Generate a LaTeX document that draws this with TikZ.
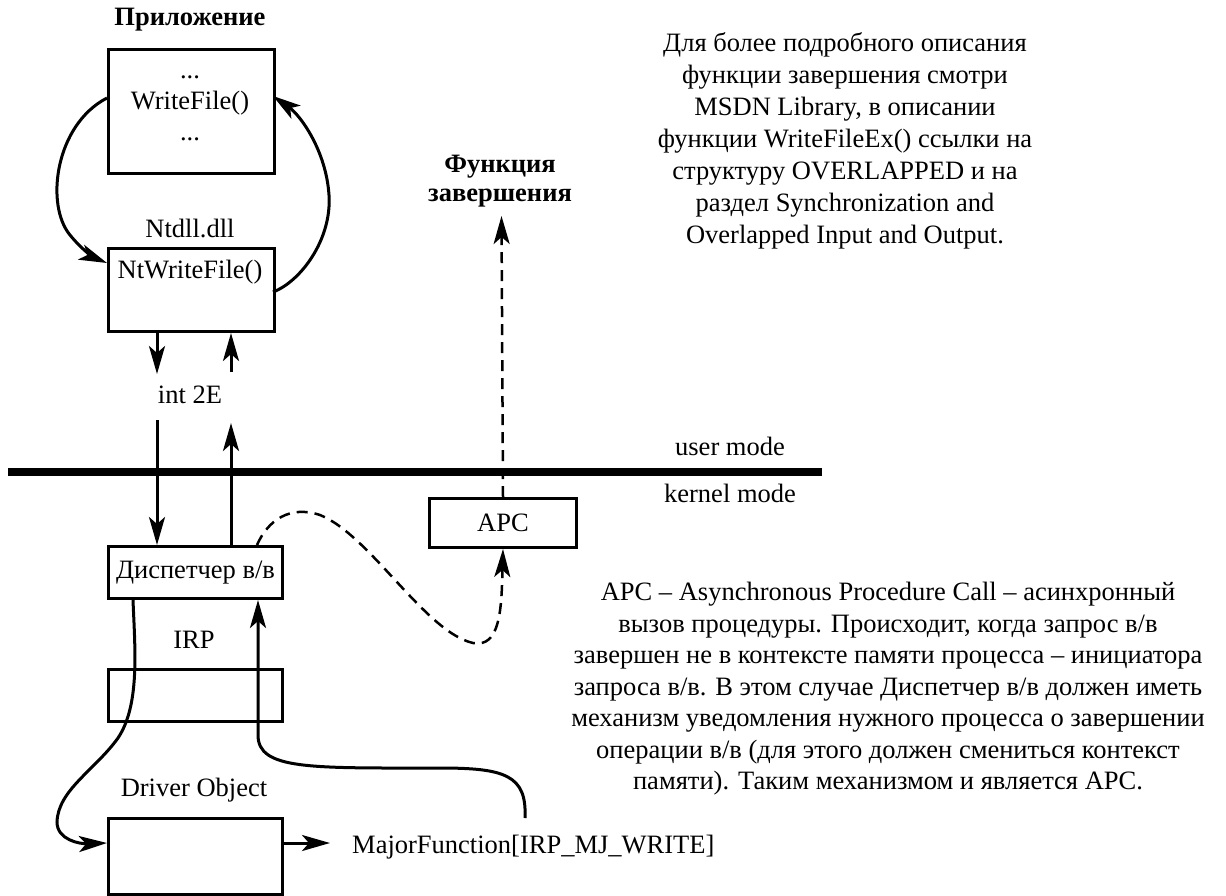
\documentclass[tikz,border=0pt]{standalone}
\usepackage{fontspec}
\setmainfont{Liberation Serif}
\usetikzlibrary{arrows.meta,calc}
\begin{document}
\begin{tikzpicture}[x=1pt,y=-1pt,
  every node/.style={font=\fontsize{26.5}{31.5}\selectfont, inner sep=0pt},
  box/.style={draw, line width=3pt, anchor=north west},
  txt/.style={align=center},
  arr/.style={line width=3pt, -{Stealth[length=28pt,width=16pt,inset=7pt]}},
  darr/.style={line width=2.5pt, dash pattern=on 11pt off 7pt, -{Stealth[length=28pt,width=16pt,inset=7pt]}},
]
\useasboundingbox (0,0) rectangle (1226,895);

% user-mode side
\node[txt, font=\fontsize{26.5}{31.5}\selectfont\bfseries] (lblApp) at (190,20) {Приложение};
\node[box, minimum width=166pt, minimum height=124pt] (app) at (107,48) {};
\node[txt, font=\fontsize{26.5}{31}\selectfont] (appt) at (190,108) {...\\WriteFile()\\...};
\node[txt] (lblNt) at (190,228) {Ntdll.dll};
\node[box, minimum width=166pt, minimum height=83pt] (nt) at (107,247) {};
\node[txt] (ntt) at (190,272) {NtWriteFile()};

\node[txt] (int) at (190,395) {int 2E};

\coordinate (xL) at (157,0);
\coordinate (xR) at (231,0);
\coordinate (e1) at (157,374);
\coordinate (s2) at (231,372);
\coordinate (s3) at (157,420);
\coordinate (e4) at (231,423);

% kernel side
\node[box, minimum width=174pt, minimum height=52pt] (disp) at (107,545) {Диспетчер в/в};
\node[txt] (lblIrp) at (194,640) {IRP};
\node[box, minimum width=174pt, minimum height=52pt] (irp) at (107,668) {};
\node[txt] (lblDrv) at (194,790) {Driver Object};
\node[box, minimum width=174pt, minimum height=76pt] (drv) at (107,817) {};
\node[anchor=base west] (mf) at (352,853) {MajorFunction[IRP\_MJ\_WRITE]};

\node[box, minimum width=147pt, minimum height=49pt] (apc) at (428,497) {APC};
\node[txt, font=\fontsize{26.5}{29}\selectfont\bfseries] (fz) at (500,181) {Функция\\завершения};
\coordinate (fzTip) at (501.5,216);

% mode line
\coordinate (mL) at (8,472);
\coordinate (mR) at (822,472);
\draw[line width=8pt] (mL) -- (mR);
\node[txt] (um) at (730,446) {user mode};
\node[txt] (km) at (730,493) {kernel mode};

% notes
\node[txt, font=\fontsize{26.5}{32}\selectfont] (note1) at (845,141) {Для более подробного описания\\функции завершения смотри\\MSDN Library, в описании\\функции WriteFileEx() ссылки на\\структуру OVERLAPPED и на\\раздел Synchronization and\\Overlapped Input and Output.};
\node[txt, font=\fontsize{26.5}{31.5}\selectfont] (note2) at (888,689) {APC – Asynchronous Procedure Call – асинхронный\\вызов процедуры. Происходит, когда запрос в/в\\завершен не в контексте памяти процесса – инициатора\\запроса в/в. В этом случае Диспетчер в/в должен иметь\\механизм уведомления нужного процесса о завершении\\операции в/в (для этого должен смениться контекст\\памяти). Таким механизмом и является APC.};

% connectors
\draw[arr] ($(app.north west)+(0,50)$) .. controls (55,125) and (45,205) .. (70,235) .. controls (82,250) and (95,258) .. ($(nt.north west)+(0,16)$);
\draw[arr] ($(nt.north west)+(166,45)$) .. controls (300,282) and (332,240) .. (329,195) .. controls (326,150) and (300,115) .. ($(app.north west)+(166,48)$);

\draw[arr] (nt.south -| xL) -- (e1);
\draw[arr] (s2) -- (nt.south -| xR);
\draw[arr] (s3) -- (disp.north -| xL);
\draw[arr] (disp.north -| xR) -- (e4);

\draw[darr] ($(disp.north west)+(150,0)$) .. controls (268,520) and (290,505) .. (320,515) .. controls (370,535) and (425,632) .. (473,643) .. controls (500,648) and (501.5,610) .. (apc.south);
\draw[darr] (apc.north) -- (fzTip);

\draw[arr] ($(disp.south west)+(26,0)$) .. controls (135,650) and (140,705) .. (118,738) .. controls (95,770) and (58,790) .. (57,822) .. controls (57,840) and (80,844) .. ($(drv.north west)+(0,26)$);
\draw[arr] ($(drv.north west)+(174,26)$) -- ($(mf.base west)+(-22,-10)$);
\draw[arr] ($(mf.base west)+(173,-35)$) .. controls (527,775) and (505,768) .. (440,768) .. controls (310,768) and (258,770) .. (258,735) -- ($(disp.south west)+(151,0)$);
\end{tikzpicture}
\end{document}
